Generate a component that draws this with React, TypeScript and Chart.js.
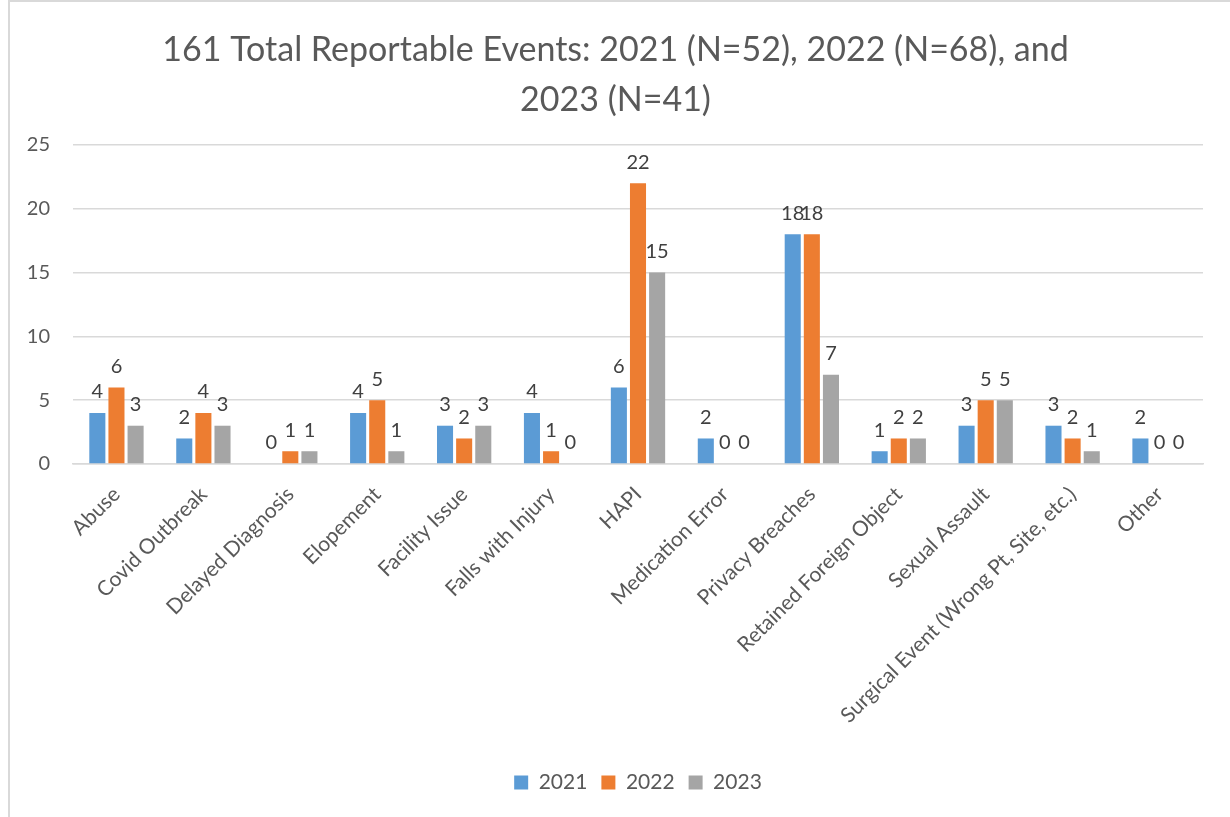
import React, { useEffect, useRef } from "react";
import { Chart, registerables } from "chart.js";

Chart.register(...registerables);

const categories = [
  "Abuse",
  "Covid Outbreak",
  "Delayed Diagnosis",
  "Elopement",
  "Facility Issue",
  "Falls with Injury",
  "HAPI",
  "Medication Error",
  "Privacy Breaches",
  "Retained Foreign Object",
  "Sexual Assault",
  "Surgical Event (Wrong Pt, Site, etc.)",
  "Other",
];
const values2021 = [4, 2, 0, 4, 3, 4, 6, 2, 18, 1, 3, 3, 2];
const values2022 = [6, 4, 1, 5, 2, 1, 22, 0, 18, 2, 5, 2, 0];
const values2023 = [3, 3, 1, 1, 3, 0, 15, 0, 7, 2, 5, 1, 0];
const seriesNames = ["2021", "2022", "2023"];
const titleLines = ["161 Total Reportable Events: 2021 (N=52), 2022 (N=68), and", "2023 (N=41)"];

const FONT = "Lato, 'Liberation Sans', sans-serif";

const dataLabels = {
  id: "dataLabels",
  afterDatasetsDraw(chart: any) {
    const ctx = chart.ctx;
    ctx.save();
    ctx.font = `20px ${FONT}`;
    ctx.fillStyle = "#404040";
    ctx.textAlign = "center";
    ctx.textBaseline = "bottom";
    chart.data.datasets.forEach((ds: any, i: number) => {
      const meta = chart.getDatasetMeta(i);
      meta.data.forEach((bar: any, j: number) => {
        ctx.fillText(String(ds.data[j]), bar.x, bar.y - 11);
      });
    });
    ctx.restore();
  },
};

export default function App() {
  const ref = useRef<HTMLCanvasElement>(null);
  useEffect(() => {
    if (!ref.current) return;
    const chart = new Chart(ref.current, {
      type: "bar",
      data: {
        labels: categories,
        datasets: [
          { label: seriesNames[0], data: values2021, backgroundColor: "#5B9BD5" },
          { label: seriesNames[1], data: values2022, backgroundColor: "#ED7D31" },
          { label: seriesNames[2], data: values2023, backgroundColor: "#A5A5A5" },
        ],
      },
      options: {
        animation: false,
        responsive: true,
        maintainAspectRatio: false,
        datasets: { bar: { categoryPercentage: 0.66, barPercentage: 0.84 } },
        layout: { padding: { left: 0, right: 9, top: 0, bottom: 14 } },
        plugins: {
          title: {
            display: true,
            text: titleLines,
            color: "#595959",
            font: { family: FONT, size: 34, weight: "normal", lineHeight: 1.47 },
            padding: { top: 23, bottom: 20 },
          },
          legend: {
            position: "bottom",
            fullSize: false,
            labels: {
              color: "#595959",
              font: { family: FONT, size: 21 },
              boxWidth: 14,
              boxHeight: 14,
              padding: 14,
            },
          },
          tooltip: { enabled: false },
        },
        scales: {
          x: {
            grid: { display: false },
            border: { display: true, color: "#d9d9d9", width: 1.5 },
            ticks: {
              color: "#595959",
              font: { family: FONT, size: 21 },
              minRotation: 45,
              maxRotation: 45,
              autoSkip: false,
              padding: 10,
            },
            afterFit(scale: any) {
              scale.height = 294;
            },
          },
          y: {
            min: 0,
            max: 25,
            ticks: {
              stepSize: 5,
              color: "#595959",
              font: { family: FONT, size: 20 },
              padding: 23,
            },
            grid: { color: "#d9d9d9", lineWidth: 1.5, drawTicks: false },
            border: { display: false },
            afterFit(scale: any) {
              scale.width = 63;
            },
          },
          yRight: {
            type: "linear",
            position: "right",
            display: true,
            grid: { display: false },
            ticks: { display: false },
            border: { display: false },
            afterFit(scale: any) {
              scale.width = 18;
            },
          },
        },
      },
      plugins: [dataLabels],
    });
    return () => chart.destroy();
  }, []);

  return (
    <div
      style={{
        position: "fixed",
        left: 8,
        top: 0,
        width: 1222,
        height: 817,
        borderLeft: "2px solid #d9d9d9",
        borderTop: "2px solid #d9d9d9",
        boxSizing: "border-box",
        background: "#fff",
      }}
    >
      <div style={{ position: "relative", width: 1220, height: 815 }}>
        <canvas ref={ref} />
      </div>
    </div>
  );
}
